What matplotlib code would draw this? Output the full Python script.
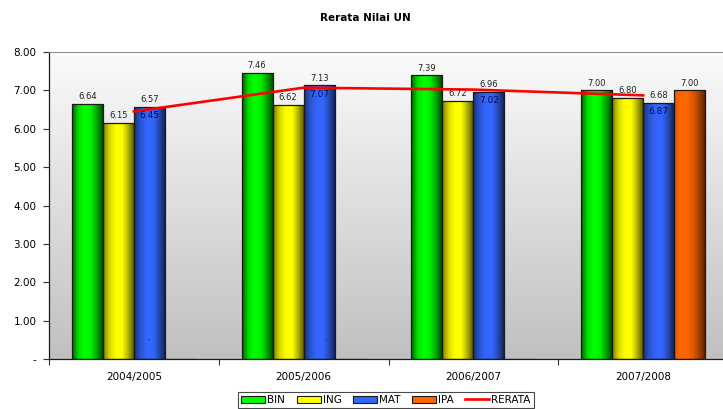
import numpy as np
import matplotlib
matplotlib.use("Agg")
import matplotlib.pyplot as plt
from matplotlib.colors import LinearSegmentedColormap
from matplotlib.patches import Patch
from matplotlib.lines import Line2D
from matplotlib.ticker import FuncFormatter, FixedLocator

years = ["2004/2005", "2005/2006", "2006/2007", "2007/2008"]
binVals = [6.64, 7.46, 7.39, 7.00]
ingVals = [6.15, 6.62, 6.72, 6.80]
matVals = [6.57, 7.13, 6.96, 6.68]
ipaVals = [0, 0, 0, 7.00]
rerataVals = [6.45, 7.07, 7.02, 6.87]
seriesNames = ["BIN", "ING", "MAT", "IPA"]

baseColors = ["#00ff00", "#ffff00", "#3366ff", "#ff6600"]
gradStops = [
    ["#006400", "#00e000", "#00ff00", "#00ee00", "#00a000", "#004000"],
    ["#808000", "#d8d800", "#ffff00", "#ffff00", "#b0b000", "#505000"],
    ["#1a3380", "#2a55d0", "#3366ff", "#3366ff", "#2448b0", "#101f50"],
    ["#e05a00", "#ff6600", "#ff6600", "#e05800", "#a04000", "#502000"],
]


def shadeBars(ax, bars, stops):
    cmap = LinearSegmentedColormap.from_list("bar", stops)
    grad = np.linspace(0, 1, 64).reshape(1, -1)
    for bar in bars:
        h = bar.get_height()
        if h <= 0:
            continue
        x0 = bar.get_x()
        im = ax.imshow(grad, cmap=cmap, aspect="auto", zorder=2,
                       extent=[x0, x0 + bar.get_width(), 0, h])
        im.set_clip_path(bar)


fig = plt.figure(figsize=(7.23, 4.09), dpi=100)
ax = fig.add_axes([0.0678, 0.1222, 0.9392, 0.7507])

# plot area background, light at the top and grey at the bottom
bg = LinearSegmentedColormap.from_list("bg", ["#c0c0c0", "#fbfbfb"])
ax.imshow(np.linspace(0, 1, 256).reshape(-1, 1), cmap=bg, aspect="auto",
          origin="lower", extent=[-0.5, 3.5, 0, 8], zorder=0)

x = np.arange(len(years))
w = 0.183
allVals = [binVals, ingVals, matVals, ipaVals]
for k, vals in enumerate(allVals):
    pos = x + (k - 1.5) * w
    bars = ax.bar(pos, vals, w, facecolor="none", edgecolor="#1a1a1a",
                  linewidth=0.9, zorder=3)
    shadeBars(ax, bars, gradStops[k])
    for p, v in zip(pos, vals):
        if v > 0:
            ax.annotate(f"{v:.2f}", (p, v), xytext=(0, 2), textcoords="offset points",
                        ha="center", va="bottom", fontsize=6, color="#222222", zorder=6)

ax.plot(x, rerataVals, color="#ff0000", linewidth=1.9, zorder=4)
for p, mv, rv in zip(x + 0.5 * w, matVals, rerataVals):
    ax.annotate(f"{rv:.2f}", (p, mv), xytext=(0, -3), textcoords="offset points",
                ha="center", va="top", fontsize=6.5, color="#0a0a50", zorder=6)

# small dash labels near the bottom of the first three groups
for dx in [0.09, 1.13, 2.15]:
    ax.text(dx, 0.52, "-", ha="center", va="center", fontsize=5, color="#222222", zorder=6)

ax.set_xlim(-0.5, 3.5)
ax.set_ylim(0, 8)
ax.set_yticks(np.arange(0, 9, 1))
ax.yaxis.set_major_formatter(FuncFormatter(lambda v, _: "-" if v == 0 else f"{v:.2f}"))
ax.tick_params(axis="y", length=4, width=0.8, labelsize=7.5, pad=5, color="#333333")

ax.xaxis.set_major_locator(FixedLocator([-0.5, 0.5, 1.5, 2.5, 3.5]))
ax.xaxis.set_major_formatter(FuncFormatter(lambda v, _: ""))
ax.xaxis.set_minor_locator(FixedLocator(x))
ax.set_xticklabels(years, minor=True)
ax.tick_params(axis="x", which="major", length=4, width=0.8, color="#333333")
ax.tick_params(axis="x", which="minor", length=0, labelsize=7.5, pad=9)

for side in ["left", "bottom"]:
    ax.spines[side].set_color("#1a1a1a")
    ax.spines[side].set_linewidth(0.9)
ax.spines["top"].set_color("#909090")
ax.spines["top"].set_linewidth(0.8)
ax.spines["right"].set_visible(False)
for s in ax.spines.values():
    s.set_zorder(5)

fig.text(0.506, 0.956, "Rerata Nilai UN", ha="center", va="center",
         fontsize=7.5, fontweight="bold")

handles = [Patch(facecolor=c, edgecolor="#1a1a1a", linewidth=0.8) for c in baseColors]
handles.append(Line2D([0], [0], color="#ff0000", linewidth=1.9))
leg = fig.legend(handles, seriesNames + ["RERATA"], loc="upper center",
                 bbox_to_anchor=(0.534, 0.042), ncol=5, fontsize=7.5,
                 frameon=True, fancybox=False, borderpad=0.3, handlelength=2.3,
                 handleheight=0.7, handletextpad=0.2, columnspacing=1.1,
                 borderaxespad=0)
leg.get_frame().set_edgecolor("#1a1a1a")
leg.get_frame().set_linewidth(0.8)

fig.savefig("out.png", dpi=100)
